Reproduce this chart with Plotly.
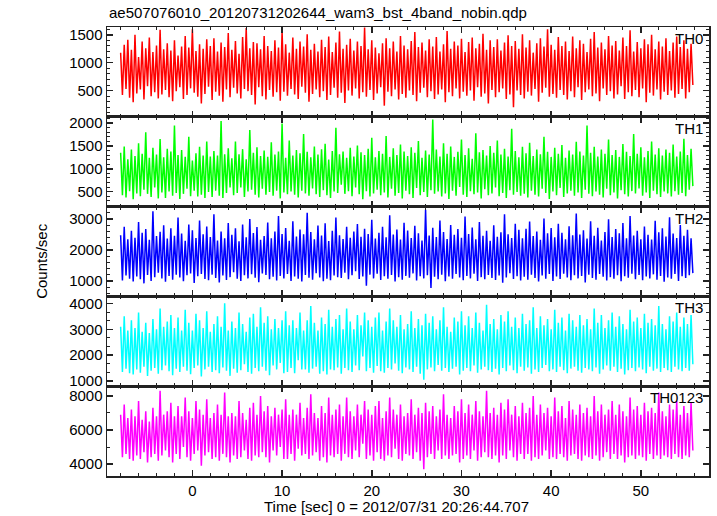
import plotly.graph_objects as go
from plotly.subplots import make_subplots

# ---- data (counts/sec), sampled every DT seconds starting at T0 ----
T0 = -8.0
DT = 0.2

TH0 = [
    1180, 420, 1320, 530, 1410, 370, 1230, 290, 1500, 450, 1100, 520, 1380, 340, 1260, 580,
    1450, 400, 1190, 470, 1310, 360, 1590, 430, 1240, 510, 1350, 380, 1220, 310, 1400, 490,
    1130, 560, 1290, 350, 1480, 420, 1270, 540, 1600, 460, 1210, 390, 1330, 270, 1250, 440,
    1420, 570, 1300, 330, 1440, 480, 1200, 410, 1360, 300, 1280, 520, 1530, 380, 1230, 550,
    1390, 450, 1160, 360, 1460, 530, 1620, 490, 1260, 420, 1370, 250, 1350, 560, 1240, 400,
    1480, 340, 1300, 510, 1210, 390, 1400, 470, 1270, 320, 1570, 480, 1330, 410, 1180, 530,
    1450, 430, 1250, 350, 1380, 570, 1290, 460, 1510, 300, 1230, 440, 1340, 520, 1200, 380,
    1410, 490, 1280, 330, 1470, 420, 1190, 550, 1360, 370, 1560, 460, 1250, 280, 1320, 500,
    1430, 410, 1220, 540, 1380, 360, 1300, 470, 1630, 390, 1240, 510, 1400, 330, 1270, 450,
    1170, 560, 1350, 230, 1440, 480, 1260, 400, 1380, 520, 1200, 340, 1480, 440, 1310, 370,
    1240, 500, 1390, 420, 1550, 310, 1280, 460, 1360, 550, 1220, 380, 1420, 490, 1290, 350,
    1460, 430, 1200, 520, 1330, 290, 1570, 470, 1250, 400, 1380, 540, 1310, 360, 1430, 480,
    1190, 410, 1370, 500, 1450, 320, 1260, 560, 1340, 390, 1520, 450, 1230, 270, 1400, 510,
    1280, 380, 1420, 470, 1220, 540, 1360, 350, 1490, 430, 1300, 200, 1390, 500, 1250, 420,
    1510, 360, 1270, 480, 1400, 410, 1180, 530, 1350, 300, 1440, 460, 1290, 550, 1600, 390,
    1320, 440, 1230, 370, 1460, 510, 1300, 420, 1380, 340, 1210, 490, 1470, 380, 1260, 560,
    1400, 330, 1340, 470, 1190, 520, 1430, 400, 1550, 450, 1270, 310, 1360, 540, 1240, 420,
    1480, 490, 1310, 360, 1390, 430, 1220, 580, 1450, 350, 1300, 470, 1580, 400, 1200, 510,
    1370, 380, 1260, 540, 1420, 290, 1330, 460, 1500, 410, 1240, 520, 1380, 340, 1290, 480,
    1440, 420, 1210, 500, 1360, 370, 1470, 440, 1280, 530, 1400, 360, 1250, 470, 1340, 600,
]

TH1 = [
    1350, 420, 1490, 370, 1210, 510, 1420, 330, 1280, 460, 1560, 400, 1330, 540, 1800, 450,
    1240, 380, 1460, 590, 1310, 350, 1650, 480, 1250, 360, 1440, 500, 1380, 410, 1950, 470,
    1300, 340, 1410, 450, 1260, 560, 1700, 400, 1180, 520, 1340, 390, 1480, 430, 1290, 360,
    1600, 490, 1270, 380, 1390, 520, 1290, 410, 2050, 360, 1320, 470, 1450, 590, 1230, 420,
    1600, 470, 1320, 590, 1430, 380, 1210, 500, 1850, 540, 1350, 430, 1470, 370, 1280, 560,
    1400, 430, 1260, 490, 1580, 410, 1310, 520, 1380, 350, 1990, 480, 1240, 440, 1620, 500,
    1290, 430, 1410, 370, 1340, 520, 1760, 460, 1370, 410, 1250, 570, 1490, 440, 1310, 380,
    1430, 530, 1550, 420, 1200, 360, 1390, 500, 1900, 470, 1320, 650, 1380, 450, 1240, 510,
    1460, 400, 1270, 590, 1510, 440, 1360, 330, 1300, 510, 1440, 390, 1680, 460, 1250, 540,
    1390, 420, 1330, 480, 1720, 370, 1260, 560, 1450, 410, 1300, 470, 1530, 350, 1380, 520,
    1280, 440, 1470, 360, 1350, 580, 1610, 420, 1240, 490, 1400, 380, 1310, 530, 2080, 450,
    1420, 500, 1270, 390, 1560, 460, 1330, 340, 1490, 520, 1260, 410, 1370, 600, 1640, 430,
    1300, 380, 1450, 510, 1220, 440, 1780, 480, 1360, 350, 1410, 550, 1290, 420, 1500, 460,
    1350, 590, 1620, 400, 1310, 470, 1440, 360, 1270, 530, 1880, 430, 1390, 490, 1250, 410,
    1480, 450, 1340, 370, 1570, 520, 1280, 430, 1420, 390, 1320, 560, 1700, 470, 1370, 340,
    1260, 500, 1460, 420, 1330, 580, 1520, 380, 1240, 460, 1400, 520, 1310, 410, 1590, 480,
    1380, 360, 1290, 540, 1950, 450, 1350, 400, 1480, 500, 1270, 430, 1420, 370, 1330, 560,
    1640, 420, 1300, 480, 1410, 350, 1260, 530, 1540, 440, 1370, 390, 1280, 510, 1760, 460,
    1330, 570, 1470, 410, 1250, 480, 1390, 360, 1600, 520, 1310, 440, 1450, 380, 1290, 500,
    1420, 460, 1350, 390, 1530, 510, 1270, 430, 1380, 470, 1660, 400, 1300, 540, 1440, 620,
]

TH2 = [
    2480, 1020, 2750, 1180, 2350, 1080, 2620, 990, 2400, 1150, 2900, 1060, 2560, 930, 2680, 1200,
    2330, 1010, 3250, 1130, 2450, 1270, 2590, 1090, 2800, 980, 2370, 1170, 2700, 1050, 2460, 1210,
    3050, 1120, 2530, 1000, 2300, 1190, 2820, 1250, 2640, 940, 2390, 1160, 2950, 1230, 2510, 1070,
    2760, 1030, 2420, 1210, 3150, 1100, 2310, 960, 2600, 1180, 2380, 1040, 2870, 1130, 2490, 1290,
    2700, 1080, 2280, 1010, 2820, 1190, 2410, 1090, 3000, 1220, 2550, 1110, 2740, 970, 2330, 1250,
    2450, 1200, 2890, 1060, 2380, 1140, 2600, 1020, 3100, 1170, 2520, 1090, 2710, 1230, 2300, 1010,
    2930, 1150, 2440, 1080, 2660, 990, 2510, 1200, 3200, 1110, 2580, 1050, 2350, 1260, 2790, 1120,
    2470, 1000, 2860, 1080, 2290, 1030, 2620, 1180, 3050, 1130, 2480, 1100, 2360, 1270, 2750, 1060,
    2400, 1190, 2600, 1320, 2840, 1070, 2430, 1150, 2690, 850, 2520, 1210, 2980, 1090, 2370, 1240,
    2560, 1040, 2750, 1160, 2410, 1080, 3120, 1200, 2500, 990, 2660, 1130, 2340, 1050, 2880, 1170,
    2630, 1110, 2390, 1250, 2780, 1020, 2540, 1160, 2310, 1090, 3300, 1190, 2470, 780, 2720, 1140,
    2420, 1060, 2950, 1210, 2580, 1000, 2360, 1150, 2810, 1080, 2490, 1230, 2680, 1120, 2400, 1030,
    3080, 1170, 2520, 1090, 2730, 1240, 2350, 1010, 2900, 1130, 2460, 1060, 2620, 1200, 2300, 1100,
    2800, 1040, 2430, 1180, 2570, 950, 3150, 1120, 2510, 1260, 2390, 1070, 2850, 1160, 2650, 1020,
    2380, 1140, 2690, 1050, 2920, 1210, 2450, 1100, 2600, 990, 2330, 1180, 3020, 1080, 2540, 1230,
    2710, 1010, 2410, 1150, 2850, 1070, 2560, 1240, 2350, 1120, 2770, 1030, 2480, 1190, 3180, 1090,
    2500, 1170, 2640, 960, 2370, 1210, 2930, 1100, 2460, 1050, 2720, 1230, 2310, 1140, 2580, 1020,
    2990, 1130, 2420, 1080, 2680, 1190, 2540, 1000, 2870, 1160, 2380, 1110, 3100, 1240, 2470, 1060,
    2620, 1200, 2350, 1030, 2760, 1150, 2490, 1090, 2340, 1220, 2940, 1050, 2570, 1170, 2700, 980,
    2440, 1120, 3060, 1080, 2530, 1230, 2390, 1010, 2810, 1160, 2460, 1100, 2650, 1190, 2380, 1260,
]

TH3 = [
    3100, 1350, 3500, 1480, 2950, 1300, 3350, 1250, 3050, 1450, 3650, 1320, 2900, 1550, 3250, 1200,
    2850, 1400, 3400, 1500, 3000, 1280, 3800, 1420, 3100, 1600, 3300, 1380, 3550, 1220, 3050, 1480,
    3450, 1350, 2950, 1550, 3750, 1400, 3250, 1260, 2950, 1500, 3600, 1600, 3350, 1180, 3050, 1450,
    3700, 1550, 2900, 1350, 3200, 1420, 3500, 1300, 3100, 1520, 4000, 1400, 2950, 1200, 3300, 1480,
    3050, 1320, 3650, 1420, 3200, 1650, 2900, 1350, 3450, 1280, 3600, 1500, 3100, 1380, 3850, 1550,
    3250, 1400, 3500, 1220, 3000, 1600, 3400, 1450, 3050, 1700, 3350, 1300, 3700, 1350, 3150, 1500,
    3350, 1300, 3050, 1800, 3650, 1450, 2950, 1450, 3350, 1320, 3900, 1480, 3250, 1550, 2950, 1280,
    3450, 1380, 3200, 1250, 3750, 1450, 3100, 1420, 3400, 1520, 3550, 1280, 3000, 1500, 3800, 1420,
    3300, 1350, 3000, 1600, 3550, 1420, 3150, 1950, 3650, 1380, 3350, 1500, 3100, 1320, 3450, 1580,
    3650, 1380, 2950, 1320, 3300, 1500, 3800, 1450, 3350, 1680, 3100, 1400, 3550, 1300, 3000, 1520,
    3200, 1450, 3700, 1350, 3050, 1550, 3400, 1280, 3150, 1050, 3600, 1450, 3250, 1520, 3500, 1380,
    3000, 1620, 3350, 1400, 3850, 1500, 3100, 1350, 2900, 1480, 3450, 1550, 3300, 1250, 3700, 1400,
    3150, 1500, 3500, 1380, 3050, 1600, 3650, 1320, 3250, 1450, 2950, 1550, 3950, 1420, 3200, 1350,
    3400, 1480, 3000, 1250, 3550, 1500, 3300, 1380, 3700, 1600, 3100, 1420, 3450, 1300, 3050, 1550,
    3600, 1400, 3200, 1520, 3350, 1280, 3850, 1450, 3050, 1350, 3500, 1500, 3150, 1620, 3400, 1380,
    3000, 1450, 3750, 1350, 3250, 1550, 3450, 1420, 2950, 1300, 3600, 1480, 3350, 1550, 3100, 1400,
    3550, 1320, 3150, 1500, 3400, 1450, 3000, 1380, 3800, 1520, 3250, 1280, 3550, 1450, 3050, 1600,
    3350, 1400, 3650, 1550, 3100, 1350, 3500, 1480, 3200, 1250, 3000, 1420, 3750, 1500, 3300, 1380,
    3450, 1520, 3050, 1450, 3600, 1300, 3250, 1550, 3400, 1400, 3150, 1480, 3900, 1350, 3200, 1500,
    3000, 1420, 3500, 1350, 3300, 1550, 3650, 1450, 3100, 1380, 3450, 1500, 3200, 1400, 3550, 1650,
]

TH0123 = [
    6900, 4400, 7500, 4600, 6700, 4300, 7200, 4200, 6800, 4500, 7700, 4300, 6600, 4700, 7100, 4100,
    6500, 4400, 7300, 4600, 6800, 4200, 8300, 4500, 6900, 4800, 7100, 4400, 7600, 4100, 6800, 4600,
    7400, 4300, 6800, 5000, 7900, 4400, 7100, 4200, 6700, 4600, 7700, 4800, 7200, 3900, 6900, 4500,
    7800, 4700, 6700, 4300, 7000, 4400, 7500, 4200, 6900, 4600, 8200, 4400, 6800, 4100, 7000, 4500,
    6800, 4300, 7700, 4400, 7000, 4800, 6600, 4300, 7300, 4200, 7600, 4500, 6900, 4400, 8000, 4700,
    7100, 4400, 7400, 4100, 6800, 4800, 7300, 4500, 6900, 5000, 7200, 4300, 7800, 4300, 6900, 4600,
    7200, 4200, 6900, 4900, 7600, 4500, 6700, 4600, 7300, 4300, 8100, 4500, 7000, 4700, 6700, 4200,
    7400, 4400, 7000, 4100, 7900, 4500, 6900, 4400, 7200, 4600, 7500, 4200, 6800, 4600, 7900, 4400,
    7100, 4300, 6800, 4800, 7500, 4400, 6900, 5200, 7700, 4300, 7200, 4500, 6900, 4200, 7400, 4700,
    7700, 4300, 6700, 4200, 7100, 4500, 7900, 4400, 7200, 4900, 6900, 4300, 7500, 4200, 6800, 4600,
    7000, 4500, 7800, 4300, 6900, 4700, 7300, 4200, 7000, 3700, 7600, 4400, 7100, 4600, 7400, 4300,
    6800, 4800, 7200, 4300, 8100, 4500, 6900, 4300, 6700, 4500, 7400, 4600, 7100, 4100, 7800, 4300,
    7000, 4500, 7500, 4300, 6900, 4800, 7700, 4200, 7100, 4400, 6800, 4700, 8300, 4400, 7000, 4300,
    7300, 4500, 6900, 4100, 7600, 4500, 7200, 4300, 7800, 4800, 6900, 4400, 7400, 4200, 6800, 4600,
    7600, 4300, 7000, 4600, 7300, 4200, 8000, 4400, 6900, 4300, 7500, 4500, 7000, 4800, 7300, 4300,
    6800, 4400, 7900, 4300, 7100, 4600, 7400, 4400, 6700, 4200, 7700, 4500, 7200, 4600, 6900, 4300,
    7500, 4200, 7000, 4500, 7300, 4400, 6800, 4300, 8000, 4500, 7100, 4200, 7500, 4400, 6900, 4700,
    7200, 4300, 7700, 4600, 6900, 4300, 7500, 4500, 7100, 4100, 6800, 4400, 7900, 4500, 7200, 4300,
    7400, 4500, 6900, 4400, 7600, 4200, 7100, 4600, 7300, 4300, 7000, 4500, 8200, 4300, 7100, 4500,
    6800, 4400, 7500, 4300, 7200, 4600, 7700, 4400, 6900, 4300, 7400, 4500, 7000, 4400, 7600, 4800,
]

SERIES = [TH0, TH1, TH2, TH3, TH0123]
NAMES = ["TH0", "TH1", "TH2", "TH3", "TH0123"]
COLORS = ["#ff0000", "#00ff00", "#0000ff", "#00ffff", "#ff00ff"]
Y_RANGES = [[30, 1640], [170, 2140], [510, 3400], [800, 4270], [3300, 8570]]
Y_DTICK = [500, 500, 1000, 1000, 2000]
Y_MINOR = [100, 100, 200, 1000 / 3, 1000]
X_RANGE = [-9.52, 57.6]

TITLE = "ae507076010_20120731202644_wam3_bst_4band_nobin.qdp"
X_TITLE = "Time [sec] 0 = 2012/07/31 20:26:44.707"
Y_TITLE = "Counts/sec"

FONT = "Liberation Sans, Arial, Helvetica, sans-serif"
AXC = "#222222"

fig = make_subplots(rows=5, cols=1, shared_xaxes=True, vertical_spacing=0)

for i, (vals, name, col) in enumerate(zip(SERIES, NAMES, COLORS)):
    t = [T0 + DT * k for k in range(len(vals))]
    fig.add_trace(
        go.Scatter(x=t, y=vals, mode="lines", line=dict(color=col, width=1.5),
                   name=name, showlegend=False, hoverinfo="skip"),
        row=i + 1, col=1,
    )
    fig.update_yaxes(
        row=i + 1, col=1,
        range=Y_RANGES[i], dtick=Y_DTICK[i], tick0=0,
        ticks="inside", ticklen=6, tickwidth=1.5, tickcolor=AXC,
        minor=dict(dtick=Y_MINOR[i], tick0=0, ticks="inside", ticklen=3,
                   tickwidth=1, tickcolor=AXC),
        showline=True, linecolor=AXC, linewidth=1.5, mirror="allticks",
        showgrid=False, zeroline=False,
        tickfont=dict(size=15, color="black", family=FONT),
    )
    fig.update_xaxes(
        row=i + 1, col=1,
        range=X_RANGE, dtick=10, tick0=0,
        ticks="inside", ticklen=6, tickwidth=1.5, tickcolor=AXC,
        minor=dict(dtick=2, tick0=0, ticks="inside", ticklen=3,
                   tickwidth=1, tickcolor=AXC),
        showline=True, linecolor=AXC, linewidth=1.5, mirror="allticks",
        showgrid=False, zeroline=False,
        tickfont=dict(size=15, color="black", family=FONT),
    )
    yref = "y domain" if i == 0 else f"y{i + 1} domain"
    fig.add_annotation(
        text=name, xref="paper", yref=yref, x=0.994, y=1.0,
        xanchor="right", yanchor="top", yshift=-1, showarrow=False,
        font=dict(size=15, color="black", family=FONT),
    )

fig.add_annotation(
    text=TITLE, xref="paper", yref="paper", x=0.0, y=1.0, xanchor="left",
    yanchor="bottom", yshift=4, showarrow=False,
    font=dict(size=15, color="black", family=FONT),
)
fig.add_annotation(
    text=X_TITLE, xref="paper", yref="paper", x=0.481, y=-0.067,
    xanchor="center", yanchor="middle", showarrow=False,
    font=dict(size=15, color="black", family=FONT),
)
fig.add_annotation(
    text=Y_TITLE, xref="paper", yref="paper", x=-0.109, y=0.48,
    xanchor="center", yanchor="middle", textangle=-90, showarrow=False,
    font=dict(size=15, color="black", family=FONT),
)

fig.update_layout(
    width=717, height=516,
    margin=dict(l=107, r=6, t=27, b=40),
    paper_bgcolor="white", plot_bgcolor="white",
    font=dict(family=FONT, size=15, color="black"),
)

fig.write_html(
    "out.html",
    config={"displayModeBar": False, "staticPlot": True},
    post_script="document.body.style.margin='0';document.body.style.overflow='hidden';",
)
